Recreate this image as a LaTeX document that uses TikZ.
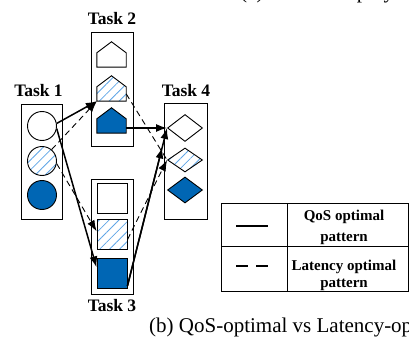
\documentclass[tikz,border=0pt]{standalone}
\usepackage{fontspec}
\setmainfont{Liberation Serif}
\usetikzlibrary{arrows.meta,patterns.meta,shapes.geometric,calc}

\definecolor{deepblue}{RGB}{0,102,180}
\definecolor{hatchblue}{RGB}{95,165,230}

\tikzset{
  taskbox/.style={draw, line width=0.9pt, inner sep=0pt},
  tasklabel/.style={anchor=base, inner sep=0pt, font=\fontsize{17.5}{20}\selectfont\bfseries},
  item/.style={draw, line width=0.9pt, inner sep=0pt},
  plain/.style={fill=white},
  hatched/.style={pattern={Lines[angle=45,distance=7pt,line width=0.8pt]}, pattern color=hatchblue},
  solidfill/.style={fill=deepblue},
  circ/.style={item, circle, minimum size=29pt},
  sq/.style={item, rectangle, minimum size=30pt},
  dia/.style={item, diamond, minimum width=35pt, minimum height=27pt},
  housebox/.style={inner sep=0pt, minimum width=29pt, minimum height=25pt},
  tip/.style={-{Latex[length=11pt,width=8pt]}},
  qos/.style={tip, line width=1.5pt},
  lat/.style={line width=0.9pt, dash pattern=on 6pt off 4pt},
  legtext/.style={anchor=base, inner sep=0pt, font=\fontsize{15}{18}\selectfont\bfseries},
  caption/.style={anchor=base west, inner sep=0pt, font=\fontsize{21}{24}\selectfont}
}

% a house-shaped marker: name, centre, fill style
\newcommand\housemark[3]{%
  \node[housebox] (#1) at #2 {};
  \draw[line width=0.9pt, #3] (#1.south west) -- (#1.south east)
    -- ([yshift=-11pt]#1.north east) -- (#1.north)
    -- ([yshift=-11pt]#1.north west) -- cycle;}

\begin{document}
\begin{tikzpicture}[x=1pt, y=-1pt]
\useasboundingbox (0,0) rectangle (409,339);
\clip (0,0) rectangle (409,339);

% captions
\node[caption] (capa) at (240,-1.5) {(a) Service deployment};
\node[caption] (capb) at (149,332) {(b) QoS-optimal vs Latency-optimal};

% task containers
\node[taskbox, minimum width=41pt, minimum height=115pt] (t1) at (41.5,161.5) {};
\node[taskbox, minimum width=42pt, minimum height=114pt] (t2) at (112,89) {};
\node[taskbox, minimum width=42pt, minimum height=115pt] (t3) at (112,236.5) {};
\node[taskbox, minimum width=43pt, minimum height=116pt] (t4) at (185.5,161) {};

\node[tasklabel] (l1) at (38.5,97) {Task 1};
\node[tasklabel] (l2) at (112,25) {Task 2};
\node[tasklabel] (l3) at (112,311) {Task 3};
\node[tasklabel] (l4) at (186,97) {Task 4};

% Task 1: circles
\node[circ, plain] (c1a) at (42,126) {};
\node[circ, hatched] (c1b) at (42,161) {};
\node[circ, solidfill] (c1c) at (42,195) {};

% Task 2: houses
\housemark{h2a}{(111.5,54.5)}{plain}
\housemark{h2b}{(111.5,88.5)}{hatched}
\housemark{h2c}{(111.5,120.5)}{solidfill}

% Task 3: squares
\node[sq, plain] (s3a) at (112,198) {};
\node[sq, hatched] (s3b) at (112,234) {};
\node[sq, solidfill] (s3c) at (112,273) {};

% Task 4: diamonds
\node[dia, plain] (d4a) at (185,128) {};
\node[dia, hatched, minimum height=24pt] (d4b) at (185,160) {};
\node[dia, solidfill, minimum height=26pt] (d4c) at (185,190) {};

% latency-optimal pattern (dashed)
\draw[lat, tip] (c1b.50) -- (h2b.south west);
\draw[lat, tip] (c1b.-10) -- (s3b.170);
\draw[lat] (h2b.-20) -- (d4b.west);
\draw[lat, tip] (s3b.-20) -- (d4b.west);

% QoS-optimal pattern (solid)
\draw[qos] (c1a.10) -- (h2b.south west);
\draw[qos] (c1a.-10) -- (s3c.160);
\draw[qos] (h2c.east |- d4a.west) -- (d4a.west);
\draw[qos] (s3c.-40) -- (d4a.west);
\draw[qos, shorten >=20pt] (s3c.-40) -- (d4a.west);

% legend
\node[draw, line width=0.9pt, inner sep=0pt, minimum width=187pt, minimum height=88pt] (leg) at (314.5,247) {};
\coordinate (divtop) at (287,203);
\coordinate (divbot) at (287,291);
\coordinate (rowl) at (221,246);
\coordinate (rowr) at (408,246);
\draw[line width=0.9pt] (divtop) -- (divbot);
\draw[line width=0.9pt] (rowl) -- (rowr);
\coordinate (sa) at (236,226);
\coordinate (sb) at (268,226);
\coordinate (da) at (236,266);
\coordinate (db) at (268,266);
\draw[line width=1.4pt] (sa) -- (sb);
\draw[line width=1.4pt, dash pattern=on 12pt off 8pt] (da) -- (db);
\node[legtext] (q1) at (344,220) {QoS optimal};
\node[legtext] (q2) at (344,241) {pattern};
\node[legtext] (q3) at (344,270) {Latency optimal};
\node[legtext] (q4) at (344,287) {pattern};
\end{tikzpicture}
\end{document}
